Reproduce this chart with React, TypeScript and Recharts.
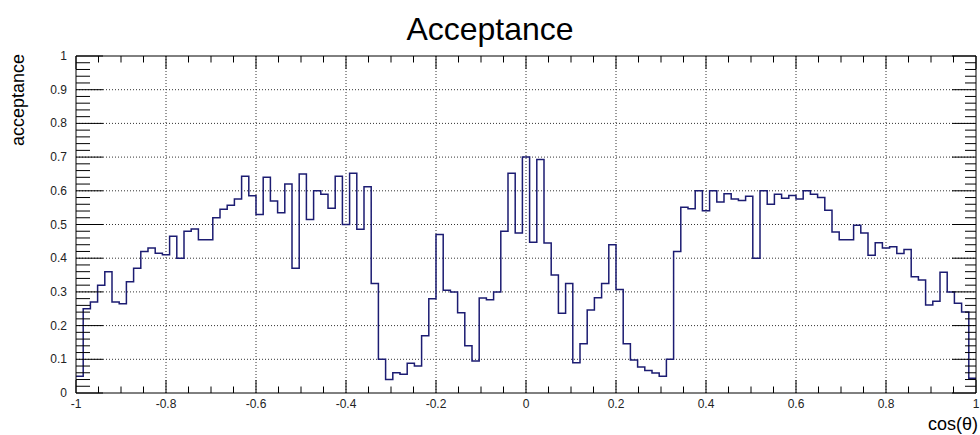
import React from 'react';
import { LineChart, Line, XAxis, YAxis, CartesianGrid } from 'recharts';

// histogram binning: 125 bins over [-1, 1]
const binLow = -1;
const binWidth = 0.016;

// bin contents, left to right
const acceptance = [
  0.05, 0.25, 0.27, 0.32, 0.36, 0.27, 0.265, 0.33, 0.37, 0.42,
  0.43, 0.415, 0.41, 0.465, 0.4, 0.48, 0.487, 0.455, 0.455, 0.52,
  0.545, 0.557, 0.576, 0.643, 0.585, 0.53, 0.64, 0.57, 0.535, 0.62,
  0.37, 0.65, 0.515, 0.6, 0.59, 0.548, 0.643, 0.5, 0.652, 0.486,
  0.612, 0.325, 0.1, 0.04, 0.06, 0.056, 0.088, 0.08, 0.17, 0.28,
  0.47, 0.305, 0.3, 0.238, 0.14, 0.095, 0.282, 0.277, 0.3, 0.48,
  0.652, 0.475, 0.7, 0.447, 0.693, 0.445, 0.35, 0.237, 0.325, 0.09,
  0.146, 0.246, 0.283, 0.325, 0.44, 0.307, 0.146, 0.098, 0.077, 0.067,
  0.059, 0.05, 0.1, 0.42, 0.551, 0.547, 0.6, 0.541, 0.6, 0.567,
  0.591, 0.576, 0.571, 0.584, 0.4, 0.6, 0.56, 0.59, 0.578, 0.586,
  0.576, 0.6, 0.59, 0.58, 0.542, 0.478, 0.455, 0.455, 0.498, 0.475,
  0.409, 0.446, 0.43, 0.434, 0.414, 0.426, 0.345, 0.335, 0.261, 0.272,
  0.358, 0.3, 0.266, 0.24, 0.044,
];

const xTickLabels = ['-1', '-0.8', '-0.6', '-0.4', '-0.2', '0', '0.2', '0.4', '0.6', '0.8', '1'];
const yTickLabels = ['0', '0.1', '0.2', '0.3', '0.4', '0.5', '0.6', '0.7', '0.8', '0.9', '1'];
const xGridValues = [-0.8, -0.6, -0.4, -0.2, 0, 0.2, 0.4, 0.6, 0.8];
const yGridValues = [0.1, 0.2, 0.3, 0.4, 0.5, 0.6, 0.7, 0.8, 0.9];

// step points at the lower edge of each bin, plus the closing edge
const histData = acceptance.map((v, i) => ({ x: binLow + i * binWidth, y: v }));
histData.push({ x: binLow + acceptance.length * binWidth, y: acceptance[acceptance.length - 1] });

// ticks: 4 subdivisions on x, 5 on y
const xTicks: number[] = [];
for (let i = 0; i <= 40; i++) xTicks.push(Number((-1 + i * 0.05).toFixed(3)));
const yTicks: number[] = [];
for (let i = 0; i <= 50; i++) yTicks.push(Number((i * 0.02).toFixed(3)));

const FONT = '"Liberation Sans", Arial, Helvetica, sans-serif';
const LINE = '#1c1c72';

const BottomTick = (props: any) => {
  const { x, y, index } = props;
  const major = index % 4 === 0;
  return (
    <g>
      <line x1={x} y1={y} x2={x} y2={y - (major ? 13 : 6.5)} stroke="#000" />
      {major && (
        <text x={x} y={y + 15} textAnchor="middle" fontSize={12} fill="#222" fontFamily={FONT}>
          {xTickLabels[index / 4]}
        </text>
      )}
    </g>
  );
};

const TopTick = (props: any) => {
  const { x, y, index } = props;
  const major = index % 4 === 0;
  return <line x1={x} y1={y} x2={x} y2={y + (major ? 13 : 6.5)} stroke="#000" />;
};

const LeftTick = (props: any) => {
  const { x, y, index } = props;
  const major = index % 5 === 0;
  return (
    <g>
      <line x1={x} y1={y} x2={x + (major ? 27 : 14)} y2={y} stroke="#000" />
      {major && (
        <text x={x - 9} y={y + 4} textAnchor="end" fontSize={12} fill="#222" fontFamily={FONT}>
          {yTickLabels[index / 5]}
        </text>
      )}
    </g>
  );
};

const RightTick = (props: any) => {
  const { x, y, index } = props;
  const major = index % 5 === 0;
  return <line x1={x} y1={y} x2={x - (major ? 24 : 11)} y2={y} stroke="#000" />;
};

export default function App() {
  return (
    <div style={{ position: 'absolute', left: 0, top: 0, width: 980, height: 435, background: '#fff' }}>
      <LineChart width={980} height={435} data={histData} margin={{ top: 55, right: 3, bottom: 41, left: 75 }}>
        <CartesianGrid
          horizontalValues={yGridValues}
          verticalValues={xGridValues}
          stroke="#333"
          strokeDasharray="1 2"
        />
        <XAxis
          dataKey="x"
          type="number"
          domain={[-1, 1]}
          allowDataOverflow
          ticks={xTicks}
          interval={0}
          height={1}
          tickSize={0}
          tickMargin={0}
          tick={(p: any) => <BottomTick {...p} />}
          axisLine={{ stroke: '#000' }}
        />
        <XAxis
          xAxisId="top"
          orientation="top"
          dataKey="x"
          type="number"
          domain={[-1, 1]}
          allowDataOverflow
          ticks={xTicks}
          interval={0}
          height={1}
          tickSize={0}
          tickMargin={0}
          tick={(p: any) => <TopTick {...p} />}
          axisLine={{ stroke: '#000' }}
        />
        <YAxis
          type="number"
          domain={[0, 1]}
          allowDataOverflow
          ticks={yTicks}
          interval={0}
          width={1}
          tickSize={0}
          tickMargin={0}
          tick={(p: any) => <LeftTick {...p} />}
          axisLine={{ stroke: '#000' }}
        />
        <YAxis
          yAxisId="right"
          orientation="right"
          type="number"
          domain={[0, 1]}
          allowDataOverflow
          ticks={yTicks}
          interval={0}
          width={1}
          tickSize={0}
          tickMargin={0}
          tick={(p: any) => <RightTick {...p} />}
          axisLine={{ stroke: '#000' }}
        />
        <Line
          xAxisId="top"
          yAxisId="right"
          dataKey="y"
          stroke="none"
          dot={false}
          activeDot={false}
          isAnimationActive={false}
        />
        <Line
          type="stepAfter"
          dataKey="y"
          stroke={LINE}
          strokeWidth={1.5}
          dot={false}
          activeDot={false}
          isAnimationActive={false}
        />
      </LineChart>
      <svg
        width={980}
        height={435}
        style={{ position: 'absolute', left: 0, top: 0, pointerEvents: 'none' }}
      >
        <text x={490} y={40} textAnchor="middle" fontSize={32} fill="#000" fontFamily={FONT}>
          Acceptance
        </text>
        <text
          transform="translate(24,54) rotate(-90)"
          textAnchor="end"
          fontSize={18}
          fill="#000"
          fontFamily={FONT}
        >
          acceptance
        </text>
        <text x={928} y={430} fontSize={18} fill="#000" fontFamily={FONT}>
          cos(θ)
        </text>
      </svg>
    </div>
  );
}
